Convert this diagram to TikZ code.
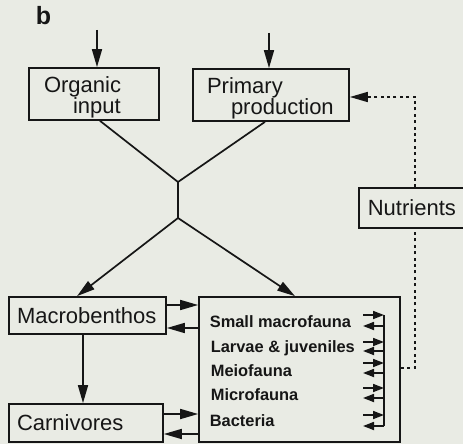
\documentclass[tikz,border=0pt]{standalone}
\usepackage{fontspec}
\setmainfont{Liberation Sans}
\usetikzlibrary{arrows.meta,calc}
\definecolor{bg}{RGB}{233,235,228}
\definecolor{ink}{RGB}{22,22,22}
\begin{document}
\begin{tikzpicture}[x=1pt,y=-1pt,line width=1.7pt,color=ink,
  box/.style={draw=ink,line width=1.7pt,inner sep=0pt},
  big/.style={font=\fontsize{22}{21}\selectfont},
  sm/.style={font=\bfseries\fontsize{16.4}{18}\selectfont,anchor=base west,inner sep=0pt},
  arr/.style={-{Triangle[length=18pt,width=10pt]}},
  sarr/.style={-{Triangle[length=11pt,width=8pt]}},
  dotline/.style={line width=2pt,dash pattern=on 3pt off 3.4pt}]
\useasboundingbox (0,0) rectangle (463,444);
\fill[bg] (0,0) rectangle (463,444);
\node[font=\bfseries\fontsize{25}{25}\selectfont,anchor=base west,inner sep=0pt] (lbl) at (35,25) {b};
% boxes
\node[box,big,minimum width=130pt,minimum height=52pt,text width=100pt,align=left] (oi) at (94,94) {\rule{0pt}{22pt}Organic\\\hspace*{29pt}input};
\node[box,big,minimum width=156pt,minimum height=52pt,text width=128pt,align=left] (pp) at (271,95) {\rule{0pt}{22pt}Primary\\\hspace*{24pt}production};
\node[box,big,anchor=west,minimum width=125pt,minimum height=40pt,text width=107pt,align=left] (nu) at (358,208) {Nutrients};
\node[box,big,minimum width=157pt,minimum height=37pt,text width=141pt,align=left] (mb) at (87.5,315.5) {\mbox{Macrobenthos}};
\node[box,big,minimum width=154pt,minimum height=38pt,text width=138pt,align=left] (cv) at (86,423) {\mbox{Carnivores}};
\node[box,minimum width=201pt,minimum height=145pt] (fa) at (299.5,369.5) {};
% inner texts
\node[sm] (t1) at (209,327) {Small macrofauna};
\node[sm] (t2) at (210,352) {Larvae \& juveniles};
\node[sm] (t3) at (210,376) {Meiofauna};
\node[sm] (t4) at (210,400) {Microfauna};
\node[sm] (t5) at (209,426) {Bacteria};
% inputs
\coordinate (in1) at (97,30);
\coordinate (in2) at (269,33);
\draw[arr] (in1) -- (in1 |- oi.north);
\draw[arr] (in2) -- (in2 |- pp.north);
% junction
\coordinate (j1) at (178,182);
\coordinate (j2) at (178,218);
\draw ($(oi.south)+(6,0)$) -- (j1) -- ($(pp.south)+(-6,0)$);
\draw (j1) -- (j2);
\draw[arr] (j2) -- ($(mb.north)+(-10.5,0)$);
\draw[arr] (j2) -- ($(fa.north)+(-4.5,0)$);
% exchanges
\coordinate (m1) at ($(mb.east)+(0,-10.5)$);
\coordinate (m2) at ($(mb.east)+(0,12.5)$);
\coordinate (c1) at ($(cv.east)+(0,-9)$);
\coordinate (c2) at ($(cv.east)+(0,11)$);
\draw[arr] (m1) -- (m1 -| fa.west);
\draw[arr] (m2 -| fa.west) -- (m2);
\draw[arr] (c1) -- (c1 -| fa.west);
\draw[arr] (c2 -| fa.west) -- (c2);
\coordinate (m3) at ($(mb.south)+(-4.5,0)$);
\draw[arr] (m3) -- (m3 |- cv.north);
% nutrient loop
\coordinate (d1) at (415,368);
\coordinate (d2) at (415,97);
\coordinate (d3) at (370,97);
\draw[dotline] (d1 -| fa.east) -- (d1) -- (d1 |- nu.south);
\draw[dotline] (nu.north -| d2) -- (d2) -- (d3);
\draw[arr] (d3) -- (d3 -| pp.east);
% internal exchanges
\coordinate (vt) at (384,315);
\coordinate (vb) at (384,426);
\draw (vt) -- (vb);
\foreach \i/\a/\b in {1/315/326,2/342/351,3/363/373,4/388/398,5/415/426}{
  \coordinate (ra\i) at (363,\a);
  \coordinate (rb\i) at (363,\b);
  \draw[sarr] (ra\i) -- (ra\i -| vt);
  \draw[sarr] (rb\i -| vt) -- (rb\i);
}
\end{tikzpicture}
\end{document}
